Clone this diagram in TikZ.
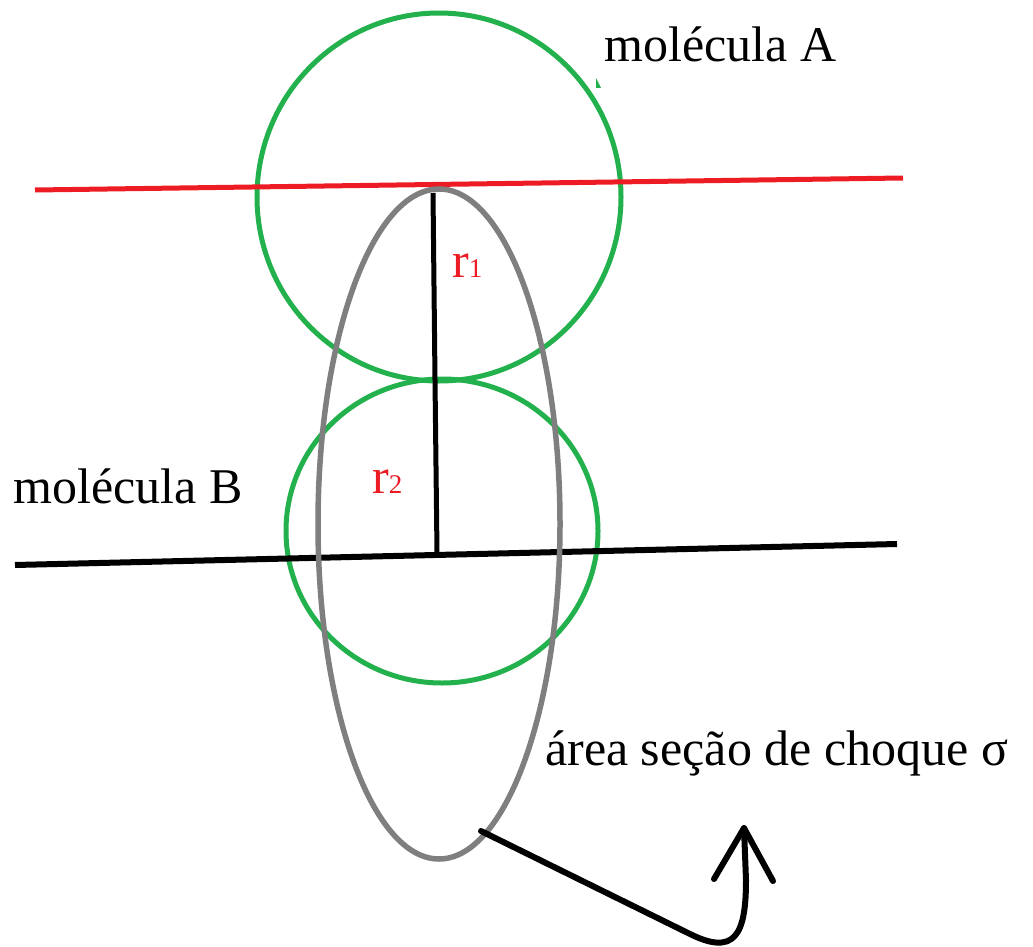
\documentclass[tikz,border=0pt]{standalone}
\usepackage{fontspec}
\setmainfont{LiberationSerif}[Extension=.ttf, UprightFont=*-Regular, BoldFont=*-Bold, ItalicFont=*-Italic]
\definecolor{pgreen}{RGB}{34,177,76}
\definecolor{pred}{RGB}{237,28,36}
\definecolor{pgray}{RGB}{127,127,127}
\tikzset{
  molcircle/.style={draw=pgreen, line width=5pt},
  redline/.style={draw=pred, line width=5pt},
  blackline/.style={draw=black, line width=6pt},
  crosssec/.style={draw=pgray, line width=5.5pt},
  radline/.style={draw=black, line width=5pt},
  lbl/.style={inner sep=0pt, anchor=base west, font=\rmfamily\fontsize{50}{60}\selectfont},
  rlbl/.style={inner sep=0pt, anchor=base west, text=pred, font=\rmfamily\fontsize{50}{60}\selectfont},
  arrowline/.style={draw=black, line width=6pt, line cap=round, line join=round}
}
\begin{document}
\begin{tikzpicture}[x=1pt, y=-1pt]
\useasboundingbox (0,0) rectangle (1033,947);
% molecule circles
\draw[molcircle] (439,197) ellipse [x radius=182, y radius=184];
\draw[molcircle] (442,531) ellipse [x radius=156, y radius=152];
\fill[pgreen] (596,78) -- (601,88) -- (596,88) -- cycle;
% horizontal lines
\coordinate (redL) at (35,190);
\coordinate (redR) at (903,178);
\draw[redline] (redL) -- (redR);
\coordinate (blkL) at (15,565);
\coordinate (blkR) at (897,544);
\draw[blackline] (blkL) -- (blkR);
% cross-section ellipse
\draw[crosssec] (439,524) ellipse [x radius=121, y radius=335];
% radius line
\coordinate (rtop) at (433,193);
\coordinate (rmid) at (435,380);
\coordinate (rbot) at (437,553);
\draw[radline] (rtop) -- (rmid) -- (rbot);
% labels
\node[rlbl] (r1) at (452,277) {r{\fontsize{27}{30}\selectfont 1}};
\node[rlbl] (r2) at (372,493) {r{\fontsize{27}{30}\selectfont 2}};
\node[lbl] (molA) at (604,62) {molécula A};
\node[lbl] (molB) at (13,503) {molécula B};
\node[lbl] (area) at (545,765) {área seção de choque σ};
% arrow
\coordinate (aStart) at (481,831);
\coordinate (aMid) at (688,933);
\coordinate (aTip) at (744,828);
\coordinate (aLeft) at (714,879);
\coordinate (aRight) at (773,881);
\draw[arrowline] (aStart) -- (aMid) .. controls (735,957) and (746,935) .. (746,880) -- (aTip);
\draw[arrowline] (aLeft) -- (aTip) -- (aRight);
\end{tikzpicture}
\end{document}
